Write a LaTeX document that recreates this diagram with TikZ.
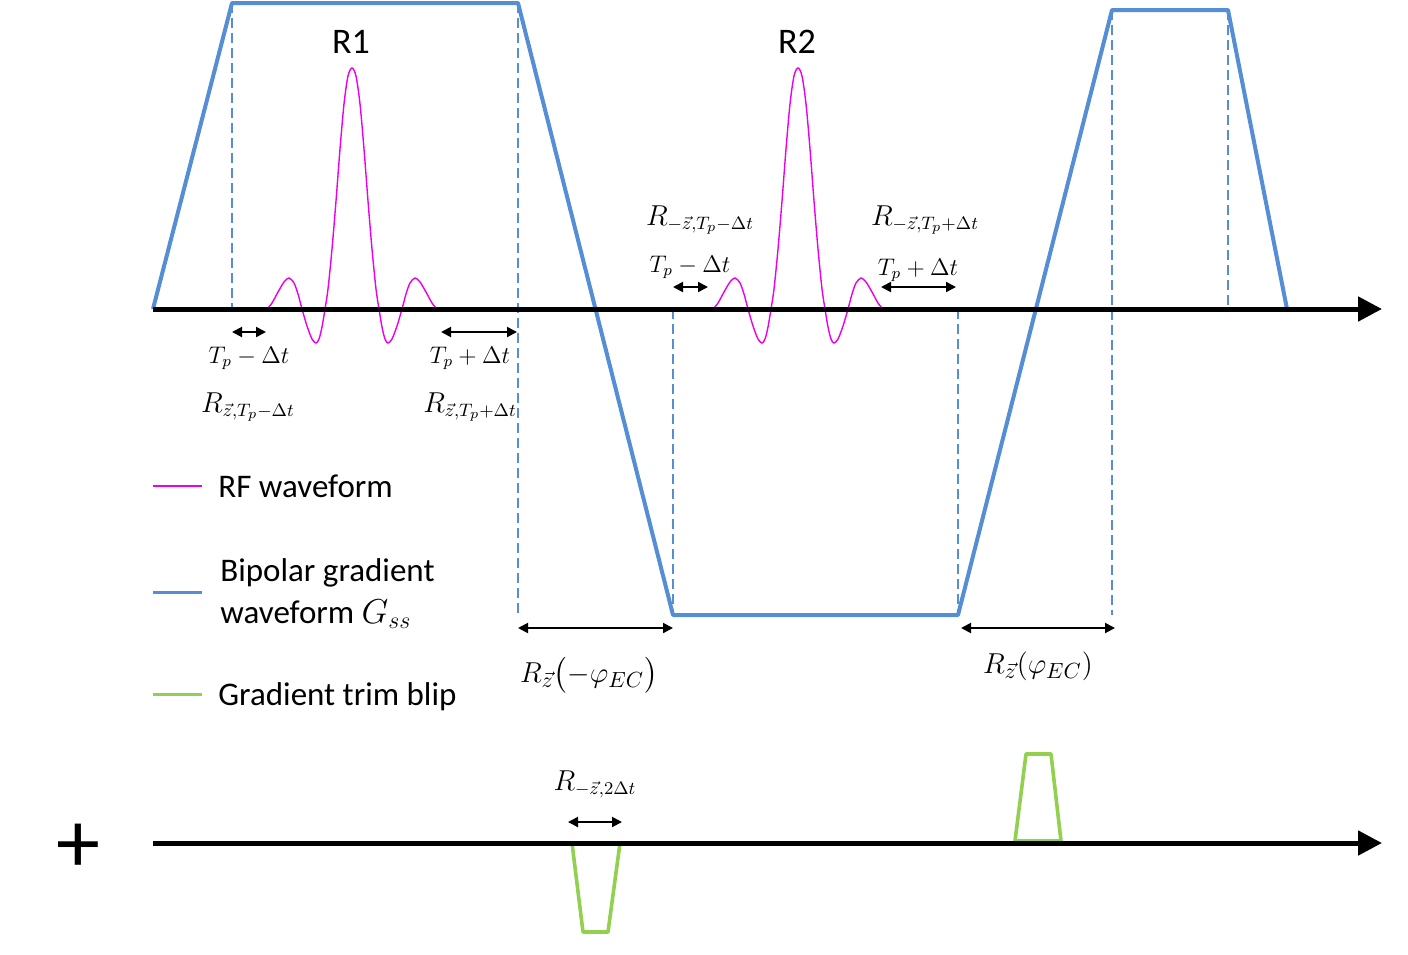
\documentclass[tikz,border=0pt]{standalone}
\usepackage{amsmath,amssymb}
\usepackage{fontspec}
\setmainfont{Carlito}
\usetikzlibrary{arrows.meta}
\definecolor{gblue}{RGB}{85,142,213}
\definecolor{rfpink}{RGB}{236,0,236}
\definecolor{trimgreen}{RGB}{146,208,80}
\tikzset{
	timeaxis/.style={line width=2.5pt, -{Triangle[length=12pt,width=12pt]}},
	grad/.style={gblue, line width=2pt, line join=round},
	guide/.style={gblue, line width=1.2pt, dash pattern=on 5pt off 2.5pt},
	rf/.style={rfpink, line width=0.7pt},
	blip/.style={trimgreen, line width=1.8pt, line join=round},
	span/.style={line width=1pt, {Triangle[length=5pt,width=5pt]}-{Triangle[length=5pt,width=5pt]}},
	lab/.style={font=\fontsize{12}{14}\selectfont, anchor=base, inner sep=0pt},
	rotlab/.style={font=\fontsize{13.5}{15}\selectfont, anchor=base, inner sep=0pt},
	biglab/.style={font=\fontsize{15}{18}\selectfont, anchor=base, inner sep=0pt},
	title/.style={font=\fontsize{18}{20}\selectfont, anchor=base, inner sep=0pt},
	keytext/.style={font=\fontsize{16.5}{20}\selectfont, anchor=base west, inner sep=0pt}
}

\begin{document}
\begin{tikzpicture}[x=0.5pt, y=-0.5pt]
	\useasboundingbox (0,0) rectangle (1408,954);

	% time axes
	\coordinate (top0) at (153,309);
	\coordinate (top1) at (1382,309);
	\coordinate (bot0) at (153,843);
	\coordinate (bot1) at (1382,843);

	% dashed guides
	\draw[guide] (232,3) -- (232,309);
	\draw[guide] (518,3) -- (518,615);
	\draw[guide] (673,309) -- (673,615);
	\draw[guide] (958,309) -- (958,615);
	\draw[guide] (1112,10) -- (1112,615);
	\draw[guide] (1228,10) -- (1228,309);

	% bipolar gradient
	\draw[grad] (153,309) -- (232,3) -- (518,3) -- (673,615) -- (958,615) -- (1112,10) -- (1228,10) -- (1287,309);

	% RF pulses
	\foreach \c in {352,798}
		\draw[rf, shift={(\c,309)}] plot[smooth] coordinates {
			(-85,0) (-80,-6) (-74,-17) (-68,-27) (-63,-31) (-58,-26) (-54,-15) (-50,0)
			(-45,17) (-40,30) (-36,34) (-33,30) (-30,18) (-27,0)
			(-24,-20) (-20,-60) (-16,-108) (-12,-160) (-8,-205) (-4,-233) (0,-241)
			(4,-233) (8,-205) (12,-160) (16,-108) (20,-60) (24,-20)
			(27,0) (30,18) (33,30) (36,34) (40,30) (45,17) (50,0)
			(54,-15) (58,-26) (63,-31) (68,-27) (74,-17) (80,-6) (85,0)};

	% trim blips
	\draw[blip] (572,843) -- (583,932) -- (608,932) -- (620,843) -- cycle;
	\draw[blip] (1015,841) -- (1026,754) -- (1051,754) -- (1061,841) -- cycle;

	\draw[timeaxis] (top0) -- (top1);
	\draw[timeaxis] (bot0) -- (bot1);

	\node[title] (r1) at (351,53) {R1};
	\node[title] (r2) at (797,53) {R2};

	% R1 timings
	\coordinate (s1a) at (232,332);
	\coordinate (s1b) at (266,332);
	\draw[span] (s1a) -- (s1b);
	\node[lab] (t1) at (249,363) {$T_p-\Delta t$};
	\node[rotlab] (rot1) at (248,412) {$R_{\vec{z},T_p-\Delta t}$};

	\coordinate (s2a) at (441,332);
	\coordinate (s2b) at (517,332);
	\draw[span] (s2a) -- (s2b);
	\node[lab] (t2) at (470,363) {$T_p+\Delta t$};
	\node[rotlab] (rot2) at (470,412) {$R_{\vec{z},T_p+\Delta t}$};

	% R2 timings
	\coordinate (s3a) at (673,287);
	\coordinate (s3b) at (708,287);
	\draw[span] (s3a) -- (s3b);
	\node[lab] (t3) at (690,272) {$T_p-\Delta t$};
	\node[rotlab] (rot3) at (700,225) {$R_{-\vec{z},T_p-\Delta t}$};

	\coordinate (s4a) at (881,287);
	\coordinate (s4b) at (956,287);
	\draw[span] (s4a) -- (s4b);
	\node[lab] (t4) at (918,275) {$T_p+\Delta t$};
	\node[rotlab] (rot4) at (925,225) {$R_{-\vec{z},T_p+\Delta t}$};

	% eddy current phases
	\coordinate (s5a) at (518,628);
	\coordinate (s5b) at (673,628);
	\draw[span] (s5a) -- (s5b);
	\node[biglab] (ec1) at (589,682) {$R_{\vec{z}}\bigl(-\varphi_{EC}\bigr)$};

	\coordinate (s6a) at (961,628);
	\coordinate (s6b) at (1115,628);
	\draw[span] (s6a) -- (s6b);
	\node[biglab] (ec2) at (1038,673) {$R_{\vec{z}}(\varphi_{EC})$};

	% trim blip timing
	\coordinate (s7a) at (568,822);
	\coordinate (s7b) at (622,822);
	\draw[span] (s7a) -- (s7b);
	\node[rotlab] (rot7) at (595,790) {$R_{-\vec{z},2\Delta t}$};

	% legend
	\draw[rf, line width=1pt] (153,486) -- (202,486);
	\node[keytext] (keyrf) at (218,497) {RF waveform};
	\draw[grad, line width=1.5pt] (153,592) -- (202,592);
	\node[keytext] (keyg1) at (220,581) {Bipolar gradient};
	\node[keytext] (keyg2) at (220,623) {waveform $G_{ss}$};
	\draw[blip, line width=1.5pt] (153,694) -- (202,694);
	\node[keytext] (keytrim) at (218,705) {Gradient trim blip};

	\node[font=\fontsize{44}{44}\selectfont, inner sep=0pt] (plus) at (78,848) {+};
\end{tikzpicture}
\end{document}
